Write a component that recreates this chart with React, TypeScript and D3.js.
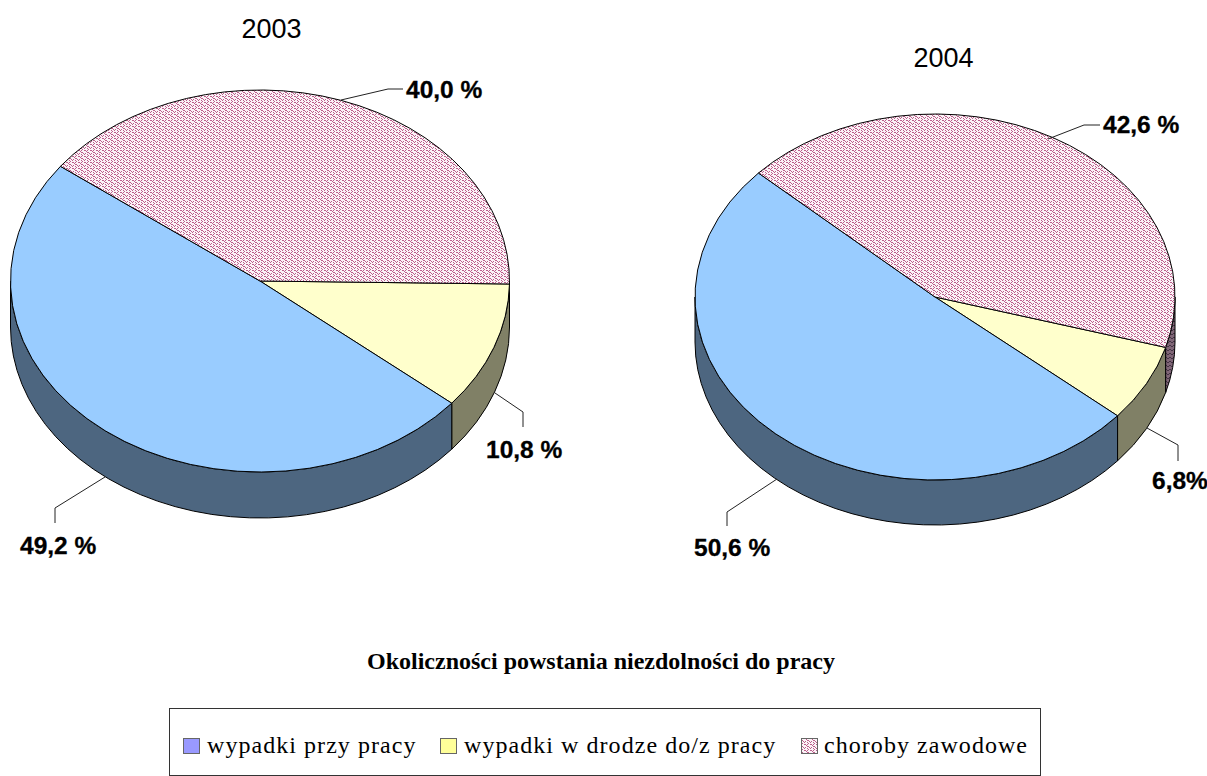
import React from "react";
import * as d3 from "d3";

const categories = ["wypadki w drodze do/z pracy", "wypadki przy pracy", "choroby zawodowe"];
const values2003 = [10.8, 49.2, 40.0];
const values2004 = [6.8, 50.6, 42.6];
const labels2003 = ["10,8 %", "49,2 %", "40,0 %"];
const labels2004 = ["6,8%", "50,6 %", "42,6 %"];
const legendOrder = [1, 0, 2];

const topFills = ["#FFFFCC", "#99CCFF", "url(#hatchTop)"];
const sideFills = ["#808066", "#4D6680", "url(#hatchSide)"];
const legendFills = ["#FFFF99", "#9999FF", "url(#hatchTop)"];

const hatchBitmap = ["XX.X..", "..X...", "...XX.", ".X...X", "X..X..", "....X."];
const hatchCells = hatchBitmap.flatMap((row, y) =>
  row.split("").flatMap((c, x) => (c === "X" ? [{ x, y }] : []))
);

const toRad = (deg: number) => (deg * Math.PI) / 180;

type Geo = { cx: number; cy: number; rx: number; ry: number; depth: number; start: number };
const geo2003: Geo = { cx: 260, cy: 281, rx: 249.5, ry: 191, depth: 46, start: 0.9 };
const geo2004: Geo = { cx: 935, cy: 297, rx: 240, ry: 183, depth: 45, start: 16 };

function Pie3D({ values, labels, geo, leaders }: { values: number[]; labels: string[]; geo: Geo; leaders: { pts: [number, number][]; x: number; y: number; anchor: string }[] }) {
  const { cx, cy, rx, ry, depth, start } = geo;
  const arcs = d3
    .pie<number>()
    .sort(null)
    .startAngle(toRad(start))
    .endAngle(toRad(start) + 2 * Math.PI)(values);
  const pt = (a: number, dy = 0) => [cx + rx * Math.cos(a), cy + ry * Math.sin(a) + dy];
  const topPath = (a0: number, a1: number) => {
    const [x0, y0] = pt(a0);
    const [x1, y1] = pt(a1);
    return `M${cx},${cy}L${x0},${y0}A${rx},${ry} 0 ${a1 - a0 > Math.PI ? 1 : 0} 1 ${x1},${y1}Z`;
  };
  const sideSeg = (a0: number, a1: number) => {
    const [x0, y0] = pt(a0);
    const [x1, y1] = pt(a1);
    const [x2, y2] = pt(a1, depth);
    const [x3, y3] = pt(a0, depth);
    return `M${x0},${y0}A${rx},${ry} 0 0 1 ${x1},${y1}L${x2},${y2}A${rx},${ry} 0 0 0 ${x3},${y3}Z`;
  };
  const sliver = 0.03;
  const sides: { d: string; i: number }[] = [];
  arcs.forEach((s, i) => {
    [0, 2 * Math.PI].forEach((off) => {
      let a0 = Math.max(s.startAngle, off);
      const a1 = Math.min(s.endAngle, off + Math.PI);
      if (a0 - off > 0 && a0 - off < sliver) a0 = off;
      if (a1 - a0 > sliver) sides.push({ d: sideSeg(a0, a1), i });
    });
  });
  return (
    <g>
      {sides.map((s, k) => (
        <path key={k} d={s.d} fill={sideFills[s.i]} stroke="#000" strokeWidth={1} strokeLinejoin="round" />
      ))}
      {arcs.map((s, i) => (
        <path key={i} d={topPath(s.startAngle, s.endAngle)} fill={topFills[i]} stroke="#000" strokeWidth={1} strokeLinejoin="round" />
      ))}
      {leaders.map((l, i) => (
        <g key={i}>
          <polyline points={l.pts.map((p) => p.join(",")).join(" ")} fill="none" stroke="#222" strokeWidth={1} />
          <text x={l.x} y={l.y} textAnchor={l.anchor as any} fontFamily="Liberation Sans" fontWeight="bold" fontSize={24.5} fill="#000" stroke="#000" strokeWidth={0.3}>
            {labels[i]}
          </text>
        </g>
      ))}
    </g>
  );
}

const leaders2003 = [
  { pts: [[495, 393], [523, 412], [523, 427]] as [number, number][], x: 486, y: 457.5, anchor: "start" },
  { pts: [[105, 477], [55, 508], [55, 523]] as [number, number][], x: 20, y: 553.5, anchor: "start" },
  { pts: [[341, 100], [388, 89], [403, 89]] as [number, number][], x: 406, y: 97.5, anchor: "start" },
];
const leaders2004 = [
  { pts: [[1147, 428], [1178, 445], [1178, 461]] as [number, number][], x: 1152, y: 489, anchor: "start" },
  { pts: [[777, 479], [727, 512], [727, 526]] as [number, number][], x: 694, y: 555.5, anchor: "start" },
  { pts: [[1048, 139], [1084, 125], [1100, 125]] as [number, number][], x: 1103, y: 132.5, anchor: "start" },
];

const legendPositions = [
  { swatch: 183.5, text: 207 },
  { swatch: 440.5, text: 464 },
  { swatch: 801.5, text: 824 },
];

export default function App() {
  return (
    <svg width={1207} height={776} style={{ position: "absolute", left: 0, top: 0 }}>
      <defs>
        <pattern id="hatchTop" width={6} height={6} patternUnits="userSpaceOnUse">
          <rect width={6} height={6} fill="#FBF3F7" />
          {hatchCells.map((p, i) => (
            <rect key={i} x={p.x} y={p.y} width={1} height={1} fill="#BC5F8C" />
          ))}
        </pattern>
        <pattern id="hatchSide" width={4} height={4} patternUnits="userSpaceOnUse">
          <rect width={4} height={4} fill="#806677" />
          <path d="M0,3L2,1L4,3" fill="none" stroke="#443344" strokeWidth={1} />
        </pattern>
      </defs>
      <text x={271.5} y={38} textAnchor="middle" fontFamily="Liberation Sans" fontSize={27}>2003</text>
      <text x={943.5} y={67} textAnchor="middle" fontFamily="Liberation Sans" fontSize={27}>2004</text>
      <Pie3D values={values2003} labels={labels2003} geo={geo2003} leaders={leaders2003} />
      <Pie3D values={values2004} labels={labels2004} geo={geo2004} leaders={leaders2004} />
      <text x={601} y={669} textAnchor="middle" fontFamily="Liberation Serif" fontWeight="bold" fontSize={24}>
        Okoliczności powstania niezdolności do pracy
      </text>
      <rect x={169.5} y={708.5} width={871} height={67} fill="#fff" stroke="#333" strokeWidth={1} />
      {legendOrder.map((c, i) => (
        <g key={c}>
          <rect x={legendPositions[i].swatch} y={738.5} width={16} height={15} fill={legendFills[c]} stroke="#666" strokeWidth={1} />
          <text x={legendPositions[i].text} y={753} fontFamily="Liberation Serif" fontSize={24} letterSpacing={1.05}>
            {categories[c]}
          </text>
        </g>
      ))}
    </svg>
  );
}
